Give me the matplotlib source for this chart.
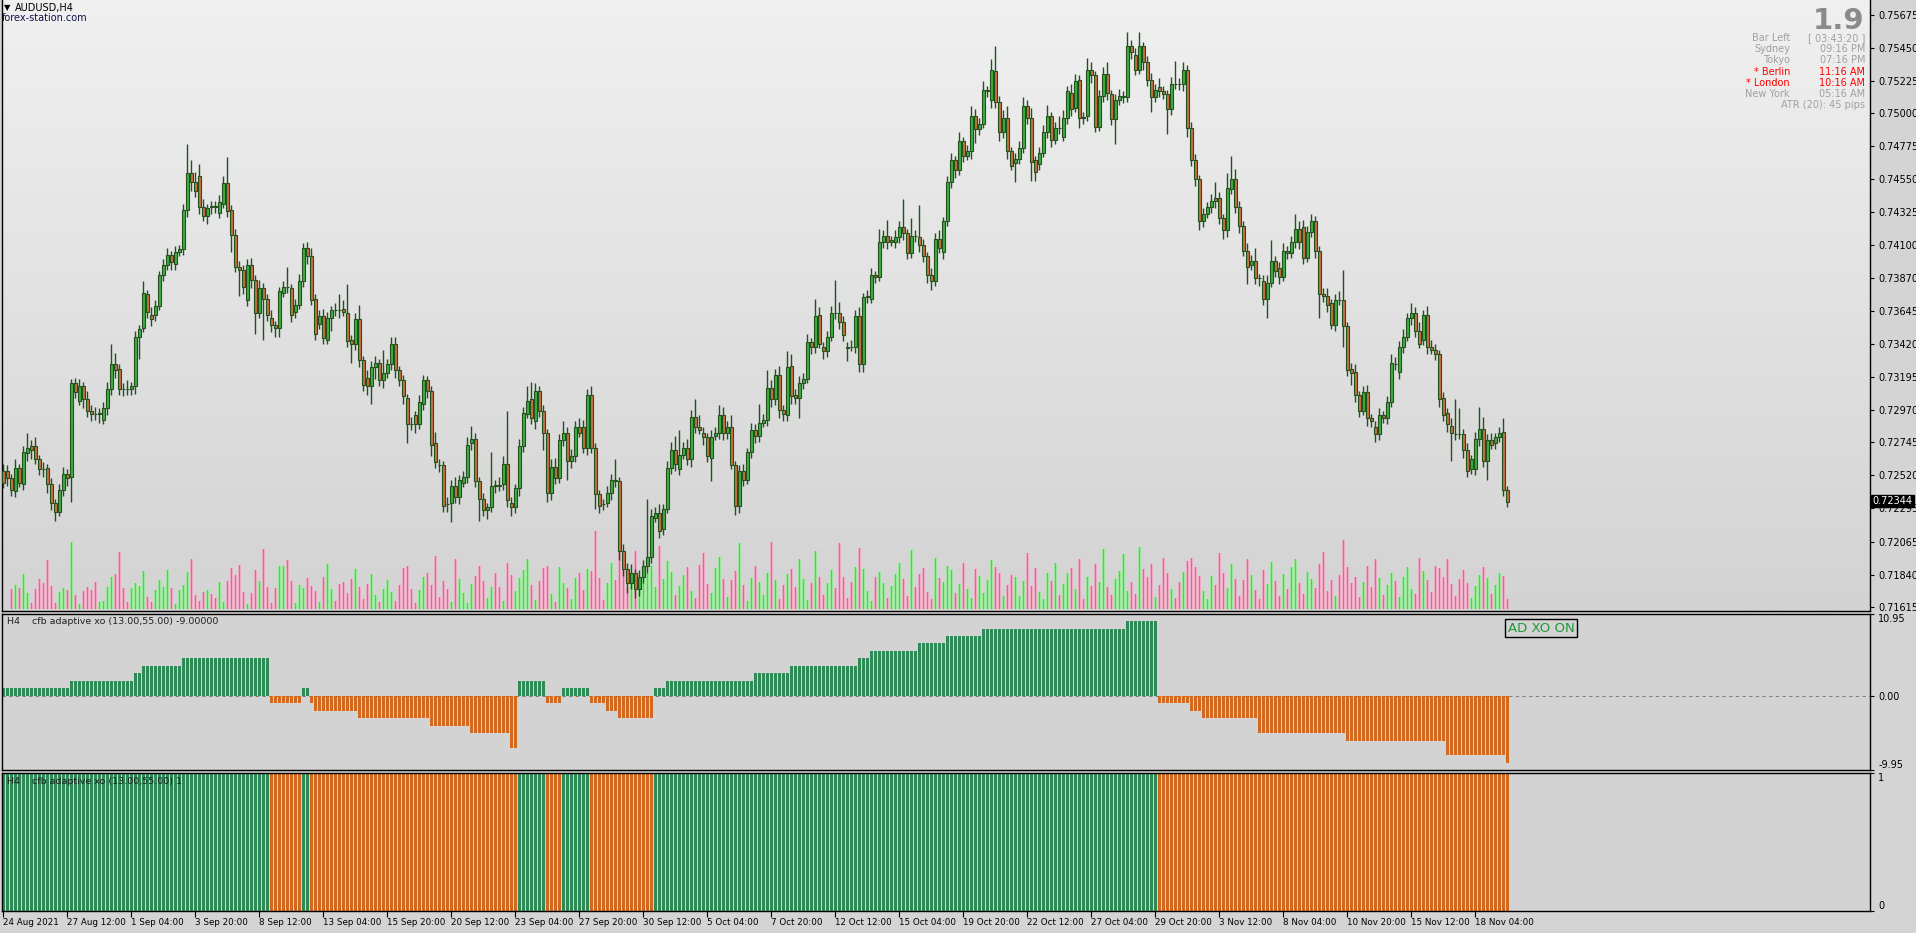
import numpy as np
import matplotlib
matplotlib.use("Agg")
import matplotlib.pyplot as plt
from matplotlib.colors import LinearSegmentedColormap
from matplotlib.transforms import blended_transform_factory

plt.rcParams["font.family"] = ["DejaVu Sans"]

# ── data: AUDUSD H4, prices in pips (x 0.0001) ─────────────────────
opens = [
    7255, 7255, 7250, 7241, 7257, 7246, 7267, 7272, 7272, 7263,
    7256, 7257, 7246, 7233, 7227, 7242, 7253, 7251, 7315, 7303,
    7313, 7304, 7296, 7294, 7294, 7290, 7298, 7311, 7328, 7325,
    7311, 7311, 7311, 7313, 7347, 7353, 7376, 7362, 7362, 7368,
    7389, 7396, 7403, 7397, 7405, 7407, 7434, 7459, 7453, 7457,
    7436, 7430, 7436, 7436, 7432, 7438, 7452, 7434, 7417, 7395,
    7393, 7372, 7396, 7386, 7363, 7380, 7373, 7360, 7355, 7353,
    7377, 7381, 7380, 7364, 7369, 7385, 7408, 7402, 7373, 7356,
    7361, 7345, 7360, 7365, 7365, 7366, 7363, 7345, 7342, 7359,
    7331, 7319, 7313, 7326, 7329, 7317, 7322, 7328, 7342, 7324,
    7317, 7305, 7287, 7293, 7287, 7301, 7317, 7310, 7274, 7259,
    7259, 7232, 7233, 7245, 7237, 7247, 7251, 7274, 7277, 7248,
    7236, 7228, 7230, 7245, 7245, 7246, 7260, 7233, 7230, 7243,
    7272, 7294, 7304, 7289, 7310, 7296, 7281, 7240, 7258, 7250,
    7276, 7281, 7262, 7265, 7285, 7285, 7271, 7307, 7271, 7239,
    7232, 7233, 7240, 7249, 7248, 7200, 7188, 7178, 7185, 7174,
    7182, 7190, 7196, 7223, 7226, 7215, 7229, 7257, 7269, 7256,
    7266, 7271, 7263, 7292, 7285, 7281, 7278, 7264, 7279, 7281,
    7293, 7281, 7285, 7259, 7231, 7255, 7249, 7268, 7283, 7279,
    7288, 7290, 7312, 7304, 7321, 7297, 7293, 7327, 7307, 7305,
    7315, 7318, 7343, 7340, 7362, 7340, 7337, 7347, 7363, 7363,
    7357, 7340, 7340, 7340, 7361, 7328, 7374, 7373, 7389, 7388,
    7412, 7416, 7412, 7412, 7415, 7422, 7418, 7404, 7416, 7415,
    7410, 7402, 7389, 7385, 7414, 7405, 7426, 7453, 7468, 7461,
    7481, 7471, 7474, 7498, 7489, 7493, 7515, 7509, 7529, 7508,
    7487, 7497, 7474, 7466, 7469, 7476, 7505, 7497, 7468, 7465,
    7473, 7487, 7498, 7482, 7490, 7484, 7497, 7514, 7504, 7523,
    7497, 7498, 7530, 7526, 7491, 7512, 7527, 7513, 7496, 7509,
    7511, 7511, 7546, 7540, 7530, 7546, 7535, 7523, 7511, 7518,
    7515, 7513, 7503, 7520, 7520, 7520, 7530, 7490, 7468, 7455,
    7426, 7431, 7436, 7442, 7442, 7428, 7420, 7448, 7455, 7436,
    7423, 7406, 7396, 7399, 7387, 7385, 7373, 7384, 7399, 7394,
    7388, 7406, 7404, 7412, 7421, 7422, 7401, 7419, 7426, 7406,
    7376, 7375, 7370, 7355, 7372, 7372, 7354, 7325, 7323, 7307,
    7296, 7309, 7291, 7285, 7280, 7293, 7291, 7302, 7328, 7323,
    7340, 7347, 7360, 7363, 7351, 7345, 7362, 7340, 7338, 7335,
    7305, 7295, 7286, 7280, 7280, 7280, 7269, 7256, 7256, 7277,
    7284, 7262, 7276, 7274, 7278, 7282, 7242,
]
closes = [
    7247, 7250, 7242, 7257, 7247, 7268, 7271, 7269, 7263, 7256,
    7256, 7246, 7233, 7227, 7242, 7253, 7250, 7315, 7309, 7313,
    7304, 7296, 7294, 7294, 7295, 7298, 7311, 7328, 7324, 7311,
    7311, 7311, 7313, 7347, 7352, 7377, 7364, 7359, 7368, 7389,
    7396, 7403, 7398, 7405, 7407, 7434, 7459, 7453, 7447, 7436,
    7430, 7435, 7436, 7436, 7439, 7452, 7433, 7417, 7395, 7393,
    7381, 7396, 7386, 7363, 7380, 7373, 7362, 7355, 7353, 7378,
    7381, 7381, 7362, 7369, 7385, 7408, 7402, 7372, 7349, 7361,
    7346, 7360, 7365, 7365, 7365, 7364, 7344, 7342, 7359, 7331,
    7314, 7313, 7326, 7329, 7317, 7322, 7328, 7342, 7324, 7317,
    7306, 7287, 7287, 7287, 7302, 7317, 7310, 7273, 7261, 7259,
    7231, 7232, 7245, 7237, 7249, 7251, 7273, 7277, 7248, 7236,
    7228, 7230, 7245, 7245, 7245, 7260, 7235, 7230, 7243, 7272,
    7295, 7303, 7291, 7310, 7296, 7281, 7240, 7258, 7250, 7276,
    7281, 7262, 7265, 7285, 7281, 7271, 7307, 7271, 7239, 7231,
    7232, 7240, 7249, 7248, 7200, 7188, 7178, 7185, 7174, 7182,
    7190, 7196, 7224, 7226, 7214, 7229, 7257, 7269, 7260, 7266,
    7271, 7263, 7292, 7285, 7283, 7278, 7265, 7278, 7281, 7293,
    7281, 7285, 7259, 7231, 7255, 7249, 7268, 7283, 7279, 7288,
    7290, 7312, 7304, 7321, 7297, 7294, 7326, 7306, 7305, 7315,
    7318, 7343, 7340, 7361, 7342, 7337, 7347, 7363, 7363, 7357,
    7348, 7339, 7340, 7361, 7328, 7374, 7375, 7389, 7388, 7412,
    7416, 7412, 7413, 7415, 7422, 7418, 7404, 7416, 7416, 7410,
    7402, 7389, 7385, 7414, 7408, 7426, 7453, 7468, 7461, 7481,
    7471, 7474, 7498, 7489, 7493, 7516, 7516, 7530, 7508, 7487,
    7497, 7474, 7464, 7469, 7476, 7505, 7497, 7467, 7460, 7473,
    7487, 7498, 7482, 7490, 7490, 7497, 7515, 7503, 7522, 7497,
    7497, 7530, 7526, 7491, 7512, 7527, 7514, 7496, 7509, 7512,
    7512, 7546, 7542, 7530, 7546, 7535, 7523, 7511, 7516, 7515,
    7513, 7503, 7520, 7520, 7520, 7530, 7490, 7468, 7455, 7426,
    7431, 7436, 7440, 7440, 7428, 7420, 7449, 7455, 7436, 7423,
    7406, 7395, 7399, 7387, 7387, 7373, 7384, 7399, 7392, 7388,
    7406, 7404, 7412, 7421, 7412, 7401, 7419, 7426, 7406, 7376,
    7375, 7369, 7355, 7372, 7372, 7354, 7324, 7322, 7307, 7296,
    7309, 7291, 7289, 7280, 7293, 7291, 7302, 7329, 7328, 7340,
    7347, 7360, 7363, 7351, 7342, 7362, 7340, 7338, 7335, 7304,
    7293, 7287, 7281, 7280, 7280, 7269, 7255, 7263, 7277, 7284,
    7262, 7276, 7273, 7278, 7281, 7242, 7234,
]
# wick lengths above / below the body, pips
wick_up = [
    5, 4, 3, 6, 3, 4, 10, 4, 6, 3,   5, 3, 4, 3, 4, 5, 3, 3, 4, 5,
    3, 6, 4, 5, 3, 4, 5, 14, 8, 3,   4, 6, 3, 4, 3, 8, 3, 5, 4, 3,
    4, 5, 3, 4, 3, 4, 20, 9, 7, 8,   5, 3, 4, 4, 5, 5, 18, 3, 4, 4,
    3, 4, 5, 3, 6, 4, 3, 5, 3, 3,    4, 14, 3, 4, 5, 3, 4, 6, 3, 4,
    5, 4, 3, 5, 11, 6, 20, 3, 4, 10, 3, 5, 4, 5, 3, 16, 4, 5, 5, 3,
    4, 3, 5, 3, 5, 4, 3, 3, 8, 4,    3, 5, 4, 6, 3, 4, 5, 9, 4, 3,
    4, 3, 23, 4, 6, 5, 36, 4, 3, 5,  4, 10, 12, 5, 3, 4, 3, 5, 6, 4,
    8, 4, 5, 4, 6, 5, 4, 6, 3, 3,    4, 5, 4, 14, 3, 5, 4, 6, 3, 5,
    4, 40, 5, 4, 6, 3, 5, 6, 10, 17, 4, 6, 5, 12, 8, 4, 3, 5, 4, 7,
    6, 4, 8, 3, 4, 5, 3, 5, 4, 13,   4, 12, 5, 4, 6, 3, 11, 8, 4, 5,
    4, 6, 3, 12, 5, 3, 4, 5, 23, 8,  4, 3, 5, 4, 6, 3, 4, 5, 3, 9,
    4, 11, 3, 5, 4, 19, 3, 12, 4, 22, 4, 3, 5, 4, 6, 3, 4, 5, 3, 6,
    3, 4, 7, 5, 4, 6, 3, 7, 17, 4,   5, 8, 3, 4, 5, 6, 4, 7, 3, 4,
    5, 8, 3, 4, 8, 5, 4, 6, 5, 3,    4, 8, 5, 3, 4, 5, 8, 3, 4, 5,
    3, 10, 4, 5, 10, 3, 4, 5, 4, 6,  4, 3, 5, 16, 4, 5, 3, 4, 4, 3,
    4, 3, 5, 11, 4, 3, 10, 16, 7, 4, 3, 5, 4, 9, 3, 4, 5, 14, 3, 4,
    5, 3, 4, 10, 5, 5, 4, 5, 4, 3,   4, 5, 3, 4, 6, 21, 3, 4, 5, 3,
    4, 5, 3, 4, 5, 3, 4, 6, 5, 4,    5, 3, 7, 4, 6, 3, 6, 5, 4, 3,
    4, 3, 5, 24, 18, 4, 5, 3, 5, 15, 8, 4, 5, 3, 4, 9, 3,
]
wick_dn = [
    4, 5, 4, 4, 3, 4, 5, 6, 3, 4,    5, 6, 5, 6, 3, 4, 5, 17, 4, 3,
    6, 4, 5, 4, 6, 3, 5, 4, 5, 4,    5, 4, 4, 5, 15, 3, 4, 5, 4, 3,
    4, 3, 5, 4, 3, 4, 5, 6, 4, 5,    4, 6, 5, 4, 4, 3, 4, 12, 4, 18,
    5, 4, 6, 14, 3, 28, 4, 5, 6, 6,  3, 4, 5, 4, 3, 4, 5, 3, 4, 4,
    4, 3, 9, 4, 5, 3, 4, 13, 4, 5,   4, 6, 12, 8, 4, 5, 3, 4, 5, 4,
    5, 13, 4, 6, 3, 4, 5, 8, 4, 5,   4, 5, 13, 4, 5, 3, 4, 5, 4, 15,
    4, 6, 3, 5, 4, 4, 5, 6, 4, 5,    4, 3, 4, 5, 4, 12, 6, 5, 4, 3,
    4, 13, 5, 4, 3, 4, 5, 4, 10, 5,  4, 3, 5, 4, 6, 5, 7, 4, 6, 5,
    4, 5, 4, 3, 5, 4, 3, 4, 5, 4,    3, 4, 5, 4, 3, 5, 4, 16, 3, 4,
    5, 4, 3, 6, 5, 4, 3, 4, 5, 4,    3, 4, 5, 4, 6, 5, 4, 5, 4, 14,
    4, 3, 5, 4, 3, 5, 4, 3, 4, 5,    4, 9, 3, 4, 5, 5, 4, 3, 4, 3,
    4, 5, 3, 4, 4, 5, 4, 3, 4, 5,    4, 5, 6, 3, 4, 5, 3, 4, 5, 3,
    4, 3, 5, 9, 4, 3, 4, 5, 4, 6,    4, 5, 3, 13, 4, 3, 4, 13, 6, 4,
    3, 4, 5, 3, 4, 3, 4, 5, 3, 7,    4, 3, 5, 4, 3, 4, 5, 4, 17, 3,
    4, 3, 5, 4, 3, 5, 4, 10, 3, 4,   3, 17, 4, 3, 4, 5, 6, 4, 5, 6,
    4, 3, 4, 5, 4, 6, 5, 3, 4, 5,    4, 12, 3, 4, 5, 4, 13, 3, 4, 5,
    3, 4, 3, 4, 5, 4, 3, 4, 5, 16,   4, 5, 3, 4, 3, 14, 4, 8, 5, 4,
    3, 5, 4, 5, 4, 3, 4, 3, 4, 5,    4, 3, 5, 4, 3, 4, 5, 3, 4, 5,
    4, 5, 19, 4, 3, 5, 4, 3, 4, 5,   4, 13, 3, 4, 3, 4, 4,
]
volumes = [
    0, 0, 6000, 7200, 6300, 10600, 4800, 1800, 6000, 9000,
    7800, 14700, 6900, 1800, 5100, 6300, 5700, 20100, 4200, 1500,
    5400, 6600, 5700, 8100, 2100, 2400, 6600, 9600, 10600, 17100,
    6300, 2100, 6300, 7800, 6900, 11400, 3600, 2100, 5700, 8700,
    6600, 11700, 6300, 1500, 5700, 7200, 11100, 15000, 4200, 2400,
    5100, 5700, 4500, 3300, 8100, 2100, 8400, 12300, 10200, 13200,
    5100, 1500, 4800, 11700, 8400, 18000, 6600, 1800, 6300, 12900,
    12900, 14700, 8400, 1800, 7200, 6300, 9500, 7000, 5400, 2100,
    9800, 13500, 6000, 2500, 7600, 8200, 5000, 9000, 12000, 6800,
    3000, 7500, 10500, 4200, 2200, 6000, 8900, 5100, 2600, 7200,
    12500, 13000, 6200, 1800, 5900, 9800, 11000, 7400, 16000, 3600,
    8600, 6100, 2300, 15000, 9200, 4800, 2000, 7700, 9900, 13000,
    8400, 3500, 6600, 11000, 6800, 2400, 14000, 10200, 5600, 9400,
    11800, 15000, 7300, 2800, 8500, 12400, 13000, 4700, 2200, 12600,
    8000, 6400, 3100, 9500, 10800, 5900, 12000, 11500, 23500, 9300,
    2700, 7900, 13800, 8800, 20500, 14200, 6300, 10000, 17500, 8600,
    12800, 11000, 13000, 6800, 19000, 9000, 14500, 11200, 4200, 7000,
    10300, 12700, 5400, 3300, 13200, 17000, 7600, 5000, 12300, 15800,
    9000, 3800, 8700, 11500, 20000, 7200, 2600, 9500, 13000, 8100,
    4400, 11000, 20300, 8800, 3200, 7400, 10600, 12200, 6800, 15000,
    9100, 2900, 8000, 17500, 9700, 4300, 7800, 11900, 6400, 20000,
    9600, 3500, 8300, 12600, 18300, 12000, 5600, 2500, 9600, 11300,
    7800, 3300, 6900, 10500, 13800, 9000, 4100, 17700, 6600, 10700,
    12400, 5200, 3000, 15500, 9300, 8200, 13000, 11700, 4800, 7700,
    14000, 6100, 3400, 12100, 9900, 5000, 8800, 14900, 12700, 11000,
    4000, 7300, 10200, 9600, 3900, 8600, 16900, 7000, 12300, 5100,
    3200, 11000, 8400, 14000, 4300, 7500, 10900, 12500, 6000, 15200,
    3100, 9800, 7100, 13600, 8200, 18000, 6600, 4300, 9200, 11600,
    16600, 5500, 8100, 4600, 18800, 12000, 9700, 13500, 3700, 7400,
    15400, 10800, 6000, 3400, 8300, 11200, 14600, 15400, 12800, 9900,
    5400, 3000, 10100, 7400, 17000, 11000, 6400, 13600, 9200, 4000,
    8900, 15100, 10400, 5900, 3100, 11800, 7700, 14100, 8600, 3900,
    10600, 6200, 12700, 15000, 8000, 4700, 11300, 9200, 6500, 13700,
    17200, 5600, 8800, 4100, 10400, 20800, 12600, 7900, 9600, 3700,
    8100, 13000, 6800, 15200, 9400, 4300, 7200, 11000, 8500, 3600,
    9700, 12600, 6100, 4700, 15500, 11400, 8800, 5300, 13100, 12400,
    9800, 15000, 7500, 4000, 9000, 11700, 8000, 3400, 6900, 10200,
    12600, 9400, 4600, 7200, 10900, 9900, 3000,
]
# cfb adaptive xo: level and how many bars it holds
xo_levels = [1, 2, 3, 4, 5, -1, 1, -1, -2, -3, -4, -5, -7, 2, -1, 1, -1, -2,
             -3, 1, 2, 3, 4, 5, 6, 7, 8, 9, 10, -1, -2, -3, -5, -6, -8, -9]
xo_counts = [17, 16, 2, 10, 22, 8, 2, 1, 11, 18, 10, 10, 2, 7, 4, 7, 4, 3,
             9, 3, 22, 9, 17, 3, 12, 7, 9, 36, 8, 8, 3, 14, 22, 25, 15, 1]

price_ticks = [0.75675, 0.75450, 0.75225, 0.75000, 0.74775, 0.74550, 0.74325,
               0.74100, 0.73870, 0.73645, 0.73420, 0.73195, 0.72970, 0.72745,
               0.72520, 0.72295, 0.72065, 0.71840, 0.71615]
time_labels = ["24 Aug 2021", "27 Aug 12:00", "1 Sep 04:00", "3 Sep 20:00",
               "8 Sep 12:00", "13 Sep 04:00", "15 Sep 20:00", "20 Sep 12:00",
               "23 Sep 04:00", "27 Sep 20:00", "30 Sep 12:00", "5 Oct 04:00",
               "7 Oct 20:00", "12 Oct 12:00", "15 Oct 04:00", "19 Oct 20:00",
               "22 Oct 12:00", "27 Oct 04:00", "29 Oct 20:00", "3 Nov 12:00",
               "8 Nov 04:00", "10 Nov 20:00", "15 Nov 12:00", "18 Nov 04:00"]
bar_step = 16
last_price = 0.72344

sessions = [("Bar Left", "[ 03:43:20 ]", "#a0a0a0"),
            ("Sydney", "09:16 PM", "#a0a0a0"),
            ("Tokyo", "07:16 PM", "#a0a0a0"),
            ("* Berlin", "11:16 AM", "#ff0000"),
            ("* London", "10:16 AM", "#ff0000"),
            ("New York", "05:16 AM", "#a0a0a0")]

# ── prepare ─────────────────────────────────────────────
o = np.array(opens) / 10000
c = np.array(closes) / 10000
h = np.maximum(o, c) + np.array(wick_up) / 10000
l = np.minimum(o, c) - np.array(wick_dn) / 10000
vol = np.array(volumes)
xo = np.repeat(xo_levels, xo_counts)
n = len(c)
x = np.arange(n)
bull = c > o

GREEN_XO, ORANGE_XO = "#2e8b57", "#d2691e"
OUTLINE, BULL, BEAR = "#23501c", "#3cb043", "#c8703c"
PANEL = "#d3d3d3"

W, H = 1916, 933
fig = plt.figure(figsize=(W / 100, H / 100), dpi=100, facecolor="#d4d4d4")


def rect(x0, y0, x1, y1):
    return [x0 / W, 1 - y1 / H, (x1 - x0) / W, (y1 - y0) / H]


xlim = ((2 - 3.3) / 4, (1870 - 3.3) / 4)

# volume + gradient background underneath, candles on top
axv = fig.add_axes(rect(2, 0, 1870, 611))
ax = fig.add_axes(rect(2, 0, 1870, 611))
ax1 = fig.add_axes(rect(2, 614, 1870, 770))
ax2 = fig.add_axes(rect(2, 773, 1870, 911))

bg = LinearSegmentedColormap.from_list("bg", ["#f0f0f0", "#d3d3d3"])
axv.imshow(np.linspace(0, 1, 256).reshape(-1, 1), extent=[0, 1, 0, 1],
           transform=axv.transAxes, aspect="auto", cmap=bg, zorder=0)
vlight = np.where(bull, "#98e698", "#eeaac4")
vdark = np.where(bull, "#3ed85a", "#e8609c")
axv.bar(x, vol, width=0.78, color=vlight, zorder=1)
axv.bar(x, vol, width=0.22, color=vdark, zorder=2)
axv.set_xlim(*xlim)
axv.set_ylim(-450, 182550)
axv.axis("off")

# candles
ax.patch.set_alpha(0)
ax.vlines(x, l, h, color=OUTLINE, lw=1.0, zorder=2)
body = np.maximum(np.abs(c - o), 0.00002)
ax.bar(x, body, bottom=np.minimum(o, c), width=0.72,
       color=np.where(bull, BULL, BEAR), edgecolor=OUTLINE, lw=0.8, zorder=3)
ax.set_xlim(*xlim)
ax.set_ylim(0.71590, 0.75777)
ax.yaxis.tick_right()
ax.set_yticks(price_ticks)
ax.set_yticklabels([f"{p:.5f}" for p in price_ticks])
ax.set_xticks([])
ax.spines["top"].set_visible(False)
tr = blended_transform_factory(ax.transAxes, ax.transData)
ax.text(1.0015, last_price, f"{last_price:.5f}", transform=tr, color="white",
        fontsize=7, va="center", ha="left", zorder=10,
        bbox=dict(boxstyle="square,pad=0.15", fc="black", ec="black"))

# xo histogram
ax1.set_facecolor(PANEL)
ax1.axhline(0, color="#808080", lw=0.8, ls=(0, (3, 3)), zorder=1)
ax1.bar(x, xo, width=0.75, color=np.where(xo > 0, GREEN_XO, ORANGE_XO), zorder=2)
ax1.set_xlim(*xlim)
ax1.set_ylim(-9.95, 10.95)
ax1.yaxis.tick_right()
ax1.set_yticks([10.95, 0, -9.95])
ax1.set_yticklabels(["10.95", "0.00", "-9.95"])
lbl = ax1.get_yticklabels()
lbl[0].set_va("top")
lbl[2].set_va("bottom")
ax1.set_xticks([])

# xo state
ax2.set_facecolor(PANEL)
ax2.bar(x, np.ones(n), width=0.8, color=np.where(xo > 0, GREEN_XO, ORANGE_XO))
ax2.set_xlim(*xlim)
ax2.set_ylim(0, 1)
ax2.yaxis.tick_right()
ax2.set_yticks([1, 0])
ax2.set_yticklabels(["1", "0"])
lbl = ax2.get_yticklabels()
lbl[0].set_va("top")
lbl[1].set_va("bottom")
ax2.set_xticks(np.arange(len(time_labels)) * bar_step)
ax2.set_xticklabels(time_labels, ha="left", fontsize=6.3)

for a in (ax, ax1, ax2):
    for s in a.spines.values():
        s.set_color("black")
        s.set_linewidth(1.0)
    a.tick_params(axis="y", length=3, width=0.8, pad=3, labelsize=7, colors="black")
    a.tick_params(axis="x", length=4, width=0.8, pad=1, colors="black")

# ── texts ──────────────────────────────────────────────
def ftext(px, py, s, **kw):
    return fig.text(px / W, 1 - py / H, s, **kw)


ftext(4, 8, "▼", fontsize=6, va="center", color="black")
ftext(15, 8, "AUDUSD,H4", fontsize=7, va="center", color="black")
ftext(2, 18, "forex-station.com", fontsize=7, va="center", color="#10104a")

ftext(1864, 21, "1.9", fontsize=21, fontweight="bold", ha="right", va="center",
      color="#8a8a8a")
for i, (name, val, col) in enumerate(sessions):
    yy = 38 + i * 11.2
    ftext(1790, yy, name, fontsize=7, ha="right", va="center", color=col)
    ftext(1865, yy, val, fontsize=7, ha="right", va="center", color=col)
ftext(1865, 105, "ATR (20): 45 pips", fontsize=7, ha="right", va="center",
      color="#a0a0a0")

ftext(7, 622, "H4    cfb adaptive xo (13.00,55.00) -9.00000", fontsize=6.8,
      va="center", color="#202020")
ftext(7, 781, "H4    cfb adaptive xo (13.00,55.00) 1", fontsize=6.8,
      va="center", color="#202020")
ftext(1541, 628, "AD XO ON", fontsize=9.5, ha="center", va="center",
      color="#1f9a3a",
      bbox=dict(boxstyle="square,pad=0.2", fc=PANEL, ec="black", lw=1))

fig.savefig("out.png", dpi=100, facecolor=fig.get_facecolor())
